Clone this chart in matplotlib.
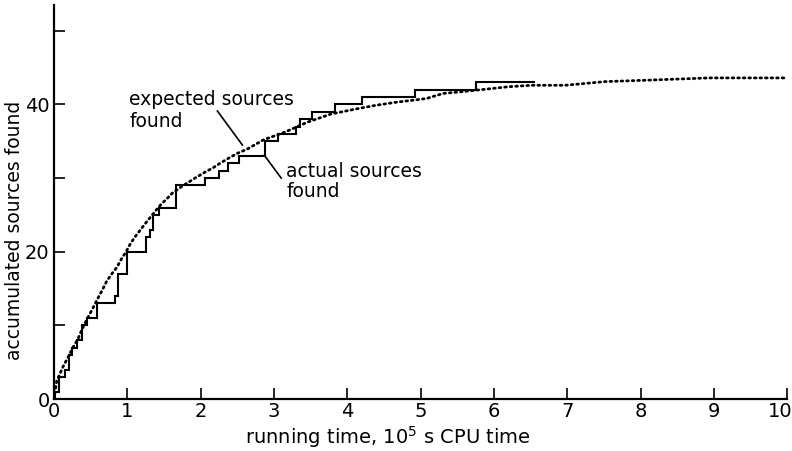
import matplotlib
matplotlib.use("Agg")
import matplotlib.pyplot as plt
import matplotlib.transforms as mtransforms

plt.rcParams["font.family"] = "DejaVu Sans"
plt.rcParams["mathtext.default"] = "regular"

# actual sources found (step record), running time in 1e5 s
act_x = [0, 0.01, 0.07, 0.15, 0.20, 0.25, 0.32, 0.39, 0.45, 0.59, 0.83, 0.88, 1.00,
         1.26, 1.31, 1.35, 1.44, 1.67, 2.06, 2.25, 2.38, 2.53, 2.88, 3.05, 3.30, 3.35,
         3.52, 3.83, 4.20, 4.93, 5.75, 6.55]
act_y = [0, 1, 3, 4, 6, 7, 8, 10, 11, 13, 14, 17, 20,
         22, 23, 25, 26, 29, 30, 31, 32, 33, 35, 36, 37, 38,
         39, 40, 41, 42, 43, 43]

# expected sources found (dotted curve)
exp_x = [0, 0.04, 0.09, 0.13, 0.20, 0.26, 0.33, 0.39, 0.46, 0.53, 0.59, 0.66, 0.72,
         0.79, 0.86, 0.92, 0.99, 1.05, 1.12, 1.19, 1.26, 1.35, 1.44, 1.53, 1.62, 1.72,
         1.83, 1.94, 2.06, 2.17, 2.28, 2.40, 2.51, 2.63, 2.86, 3.14, 3.46, 3.78, 4.13,
         4.40, 4.67, 5.08, 5.31, 5.54, 5.73, 6.20, 6.52, 6.97, 7.52, 8.12, 8.94, 10.0]
exp_y = [0, 2.5, 3.6, 4.5, 5.8, 7.0, 8.2, 9.6, 11.0, 12.3, 13.5, 14.8, 16.0,
         17.0, 17.9, 19.0, 20.1, 21.2, 22.2, 23.1, 24.0, 25.1, 26.2, 27.1, 28.0, 28.7,
         29.4, 30.1, 30.8, 31.4, 32.1, 32.8, 33.4, 33.9, 35.2, 36.2, 37.6, 38.7, 39.4,
         39.9, 40.3, 40.8, 41.5, 41.7, 41.9, 42.4, 42.6, 42.6, 43.1, 43.3, 43.6, 43.6]

x_ticks = list(range(0, 11))
y_ticks = [0, 10, 20, 30, 40, 50]
y_labels = ["0", "", "20", "", "40", ""]

fig = plt.figure(figsize=(7.92, 4.51), dpi=100)
ax = fig.add_axes([0.068, 0.115, 0.926, 0.874])

ax.step(act_x, act_y, where="post", color="black", lw=1.5, solid_joinstyle="miter")
ax.plot(exp_x, exp_y, color="black", lw=2.0, linestyle=(0, (0.6, 1.4)),
        dash_capstyle="round")

ax.set_xlim(0, 10); ax.set_ylim(0, 53.5)
ax.set_xticks(x_ticks); ax.set_xticklabels([str(t) for t in x_ticks])
ax.set_yticks(y_ticks); ax.set_yticklabels(y_labels)
ax.tick_params(direction="in", length=8, width=1.2, labelsize=14, pad=2)
ax.tick_params(axis="y", pad=3)
ax.spines[["top", "right"]].set_visible(False)
for s in ("left", "bottom"):
    ax.spines[s].set_linewidth(1.6)

# keep the last x label inside the picture
last = ax.get_xticklabels()[-1]
last.set_transform(last.get_transform() +
                   mtransforms.ScaledTranslation(-7 / 100, 0, fig.dpi_scale_trans))

# labels with leader lines
fs = 13.5
ax.text(1.03, 39.9, "expected sources", fontsize=fs, va="baseline")
ax.text(1.03, 37.0, "found", fontsize=fs, va="baseline")
ax.plot([2.23, 2.57], [39.1, 34.5], color="black", lw=1.2)
ax.text(3.17, 30.2, "actual sources", fontsize=fs, va="baseline")
ax.text(3.17, 27.4, "found", fontsize=fs, va="baseline")
ax.plot([2.87, 3.10], [33.1, 30.0], color="black", lw=1.2)

fig.text(0.49, 0.031, r"running time, 10$^5$ s CPU time", fontsize=14,
         ha="center", va="center")
fig.text(0.018, 0.49, "accumulated sources found", fontsize=fs, rotation=90,
         ha="center", va="center")

fig.savefig("out.png", dpi=100, facecolor="white")
